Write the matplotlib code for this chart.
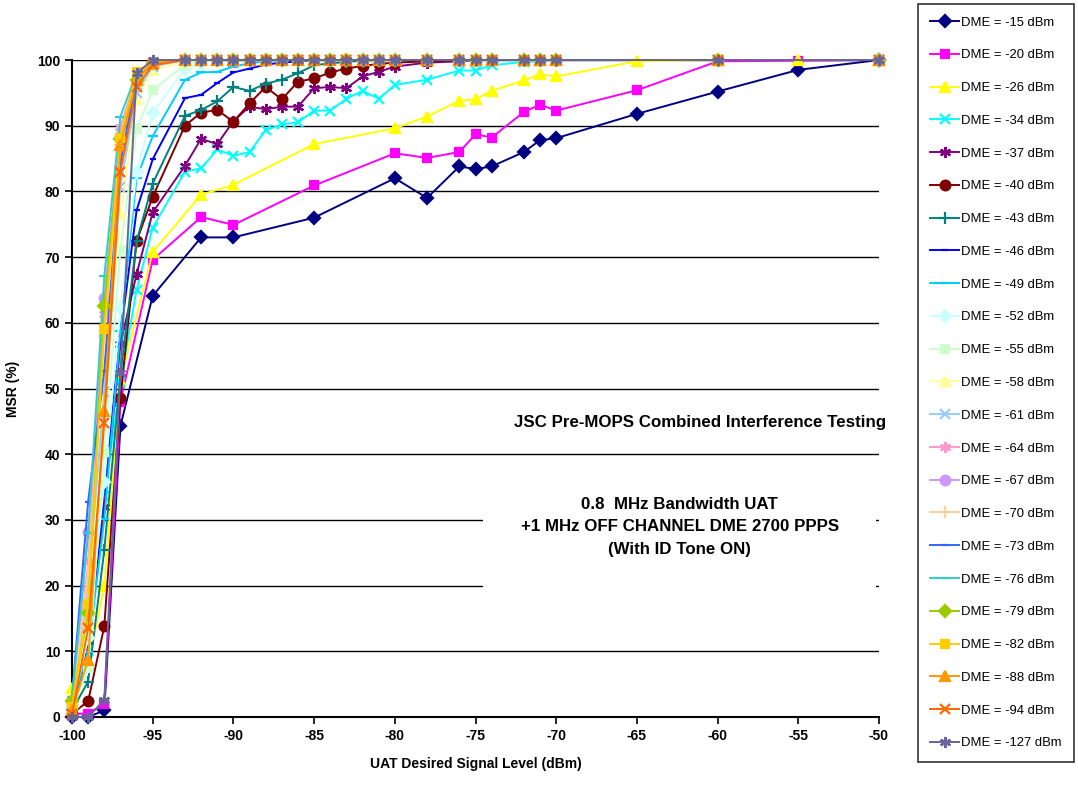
import matplotlib
matplotlib.use('Agg')
import matplotlib.pyplot as plt
from matplotlib.patches import Rectangle

plt.rcParams['font.family'] = ['Liberation Sans', 'DejaVu Sans']
plt.rcParams['axes.unicode_minus'] = False

# x grids used by the measurements
x_low = [-100, -99, -98, -97, -95, -92, -90, -85, -80, -78, -76, -75, -74,
         -72, -71, -70, -65, -60, -55, -50]
x_all = [-100, -99, -98, -97, -96, -95, -93, -92, -91, -90, -89, -88, -87,
         -86, -85, -84, -83, -82, -81, -80, -78, -76, -75, -74, -72, -71,
         -70, -60, -50]

# MSR (%) per DME level
msr_15 = [0, 0, 1, 44.3, 64.1, 73, 73, 76, 82, 79, 83.8, 83.4, 83.8,
          86, 87.8, 88.1, 91.8, 95.2, 98.5, 100]
msr_20 = [0.5, 0.5, 2, 48, 69.6, 76.1, 74.9, 80.9, 85.8, 85.1, 86, 88.7, 88.2,
          92.1, 93.2, 92.3, 95.4, 99.8, 99.9, 100]
msr_26 = [4.4, 8, 20, 51.3, 70.8, 79.5, 81, 87.2, 89.6, 91.4, 93.8, 94, 95.3,
          96.9, 97.8, 97.5, 99.8, 100, 100, 100]

msr_34 = [1, 10, 33.6, 51, 65, 74.5, 83, 83.5, 86.4, 85.4, 86, 89.3, 90.2,
          90.5, 92.3, 92.3, 94.1, 95.3, 94.1, 96.2, 97, 98.4, 98.4, 99.2,
          99.7, 99.8, 100, 100, 100]
msr_37 = [0.5, 11.5, 31.9, 56.7, 67.4, 76.8, 83.9, 88, 87.2, 90.7, 92.9,
          92.5, 92.9, 92.9, 95.7, 95.9, 95.7, 97.5, 98.2, 99, 99.6, 99.8,
          100, 100, 100, 100, 100, 100, 100]
msr_40 = [0.5, 2.4, 13.8, 48.5, 72.4, 79.2, 90, 92, 92.4, 90.6, 93.4, 95.9,
          94, 96.7, 97.2, 98.1, 98.7, 99.1, 99.4, 99.6, 99.8, 100, 100, 100,
          100, 100, 100, 100, 100]
msr_43 = [1, 5.4, 25.4, 52, 72.4, 81.2, 91.5, 92.4, 93.7, 95.9, 95.3, 96.4,
          97, 98, 99.2, 99.5, 99.7, 99.9, 100, 100, 100, 100, 100, 100, 100,
          100, 100, 100, 100]
msr_46 = [2, 9.7, 35, 58, 77.1, 84.9, 94.2, 94.7, 96.5, 98.1, 98.7, 99.3,
          99.6, 99.8, 100, 100, 100, 100, 100, 100, 100, 100, 100, 100, 100,
          100, 100, 100, 100]
msr_49 = [2, 9.9, 30.1, 58.8, 82, 88.4, 97, 98.1, 98.2, 99, 99.5, 99.8, 100,
          100, 100, 100, 100, 100, 100, 100, 100, 100, 100, 100, 100, 100,
          100, 100, 100]
msr_52 = [1.5, 12, 35.8, 62.3, 83, 92, 98.6, 99.5, 100, 100, 100, 100, 100,
          100, 100, 100, 100, 100, 100, 100, 100, 100, 100, 100, 100, 100,
          100, 100, 100]
msr_55 = [1, 7.4, 40.4, 71.1, 89.5, 95.4, 99.3, 99.7, 100, 100, 100, 100,
          100, 100, 100, 100, 100, 100, 100, 100, 100, 100, 100, 100, 100,
          100, 100, 100, 100]
msr_58 = [3, 14, 50, 76.7, 94, 98.5, 99.8, 100, 100, 100, 100, 100, 100,
          100, 100, 100, 100, 100, 100, 100, 100, 100, 100, 100, 100, 100,
          100, 100, 100]
msr_61 = [2, 20, 49.4, 80.7, 95, 99, 100, 100, 100, 100, 100, 100, 100, 100,
          100, 100, 100, 100, 100, 100, 100, 100, 100, 100, 100, 100, 100,
          100, 100]
msr_64 = [1.5, 23.6, 61.3, 89.8, 97.5, 99.5, 100, 100, 100, 100, 100, 100,
          100, 100, 100, 100, 100, 100, 100, 100, 100, 100, 100, 100, 100,
          100, 100, 100, 100]
msr_67 = [2, 28.1, 63.8, 88.5, 97, 99.5, 100, 100, 100, 100, 100, 100, 100,
          100, 100, 100, 100, 100, 100, 100, 100, 100, 100, 100, 100, 100,
          100, 100, 100]
msr_70 = [2, 22, 58, 87, 96.5, 99.5, 100, 100, 100, 100, 100, 100, 100, 100,
          100, 100, 100, 100, 100, 100, 100, 100, 100, 100, 100, 100, 100,
          100, 100]
msr_73 = [3, 32.8, 52.7, 84.4, 97, 99.5, 100, 100, 100, 100, 100, 100, 100,
          100, 100, 100, 100, 100, 100, 100, 100, 100, 100, 100, 100, 100,
          100, 100, 100]
msr_76 = [3, 28, 67.1, 91.4, 98, 99.7, 100, 100, 100, 100, 100, 100, 100,
          100, 100, 100, 100, 100, 100, 100, 100, 100, 100, 100, 100, 100,
          100, 100, 100]
msr_79 = [2.5, 15.9, 62.5, 88, 97, 99.5, 100, 100, 100, 100, 100, 100, 100,
          100, 100, 100, 100, 100, 100, 100, 100, 100, 100, 100, 100, 100,
          100, 100, 100]
msr_82 = [1.5, 17.2, 59, 88.2, 98.2, 99.5, 100, 100, 100, 100, 100, 100, 100,
          100, 100, 100, 100, 100, 100, 100, 100, 100, 100, 100, 100, 100,
          100, 100, 100]
msr_88 = [1, 8.7, 46.5, 87, 97, 99.5, 100, 100, 100, 100, 100, 100, 100, 100,
          100, 100, 100, 100, 100, 100, 100, 100, 100, 100, 100, 100, 100,
          100, 100]
msr_94 = [0.5, 13.5, 44.8, 82.9, 95.9, 99.2, 100, 100, 100, 100, 100, 100,
          100, 100, 100, 100, 100, 100, 100, 100, 100, 100, 100, 100, 100,
          100, 100, 100, 100]
msr_127 = [0, 0, 2.6, 52.3, 98, 100, 100, 100, 100, 100, 100, 100, 100, 100,
           100, 100, 100, 100, 100, 100, 100, 100, 100, 100, 100, 100, 100,
           100, 100]

labels = ['DME = -15 dBm', 'DME = -20 dBm', 'DME = -26 dBm', 'DME = -34 dBm',
          'DME = -37 dBm', 'DME = -40 dBm', 'DME = -43 dBm', 'DME = -46 dBm',
          'DME = -49 dBm', 'DME = -52 dBm', 'DME = -55 dBm', 'DME = -58 dBm',
          'DME = -61 dBm', 'DME = -64 dBm', 'DME = -67 dBm', 'DME = -70 dBm',
          'DME = -73 dBm', 'DME = -76 dBm', 'DME = -79 dBm', 'DME = -82 dBm',
          'DME = -88 dBm', 'DME = -94 dBm', 'DME = -127 dBm']
xs = [x_low] * 3 + [x_all] * 20
ys = [msr_15, msr_20, msr_26, msr_34, msr_37, msr_40, msr_43, msr_46, msr_49,
      msr_52, msr_55, msr_58, msr_61, msr_64, msr_67, msr_70, msr_73, msr_76,
      msr_79, msr_82, msr_88, msr_94, msr_127]

colors = ['#000080', '#FF00FF', '#FFFF00', '#00FFFF', '#800080', '#800000',
          '#008080', '#0000FF', '#00CCFF', '#CCFFFF', '#CCFFCC', '#FFFF99',
          '#99CCFF', '#FF99CC', '#CC99FF', '#FFCC99', '#3366FF', '#33CCCC',
          '#99CC00', '#FFCC00', '#FF9900', '#FF6600', '#666699']
star = (6, 2, 0)
markers = ['D', 's', '^', 'x', star, 'o', '+', '_', '_', 'D', 's', '^',
           'x', star, 'o', '+', '_', '_', 'D', 's', '^', 'x', star]
msizes = [6, 6, 7, 7, 8, 7, 8, 4, 7, 6, 6, 7, 7, 8, 7, 8, 4, 7, 6, 6, 7, 7, 8]

fig = plt.figure(figsize=(10.78, 7.91), dpi=100)
ax = fig.add_axes([72 / 1078, 1 - 717 / 791, 807 / 1078, 657 / 791])

for x, y, c, m, ms, lab in zip(xs, ys, colors, markers, msizes, labels):
    ax.plot(x, y, color=c, marker=m, markersize=ms, markeredgewidth=1.6,
            markerfacecolor=c, markeredgecolor=c, lw=1.4, label=lab,
            clip_on=False, zorder=3)

ax.set_xlim(-100, -50)
ax.set_ylim(0, 100)
ax.set_xticks(range(-100, -49, 5))
ax.set_yticks(range(0, 101, 10))
ax.grid(axis='y', color='black', lw=1)
ax.set_axisbelow(True)
for s in ['top', 'right']:
    ax.spines[s].set_visible(False)
for s in ['left', 'bottom']:
    ax.spines[s].set_linewidth(1.5)
ax.tick_params(direction='out', length=5, width=1.2, labelsize=10)
for t in ax.get_xticklabels() + ax.get_yticklabels():
    t.set_fontweight('bold')
ax.set_xlabel('UAT Desired Signal Level (dBm)', fontsize=10, fontweight='bold',
              labelpad=10)
ax.set_ylabel('MSR (%)', fontsize=10, fontweight='bold', labelpad=12)

# text boxes
ax.text(0.778, 0.448, 'JSC Pre-MOPS Combined Interference Testing',
        transform=ax.transAxes, ha='center', va='center', fontsize=12.2,
        fontweight='bold', zorder=4)
ax.add_patch(Rectangle((0.509, 0.18), 0.487, 0.185, transform=ax.transAxes,
                       facecolor='white', edgecolor='none', zorder=1))
ax.text(0.753, 0.2895, '0.8  MHz Bandwidth UAT\n+1 MHz OFF CHANNEL DME 2700 PPPS\n(With ID Tone ON)',
        transform=ax.transAxes, ha='center', va='center', fontsize=12.2,
        fontweight='bold', linespacing=1.62, zorder=4)

leg = fig.legend(loc='upper left', bbox_to_anchor=(918 / 1078, 1 - 4 / 791),
                 fontsize=9.4, frameon=True, fancybox=False, edgecolor='black',
                 handlelength=2.2, handletextpad=0.12, labelspacing=1.58,
                 borderpad=0.95, borderaxespad=0)
leg.get_frame().set_linewidth(1.2)

fig.savefig('out.png', dpi=100, facecolor='white')
